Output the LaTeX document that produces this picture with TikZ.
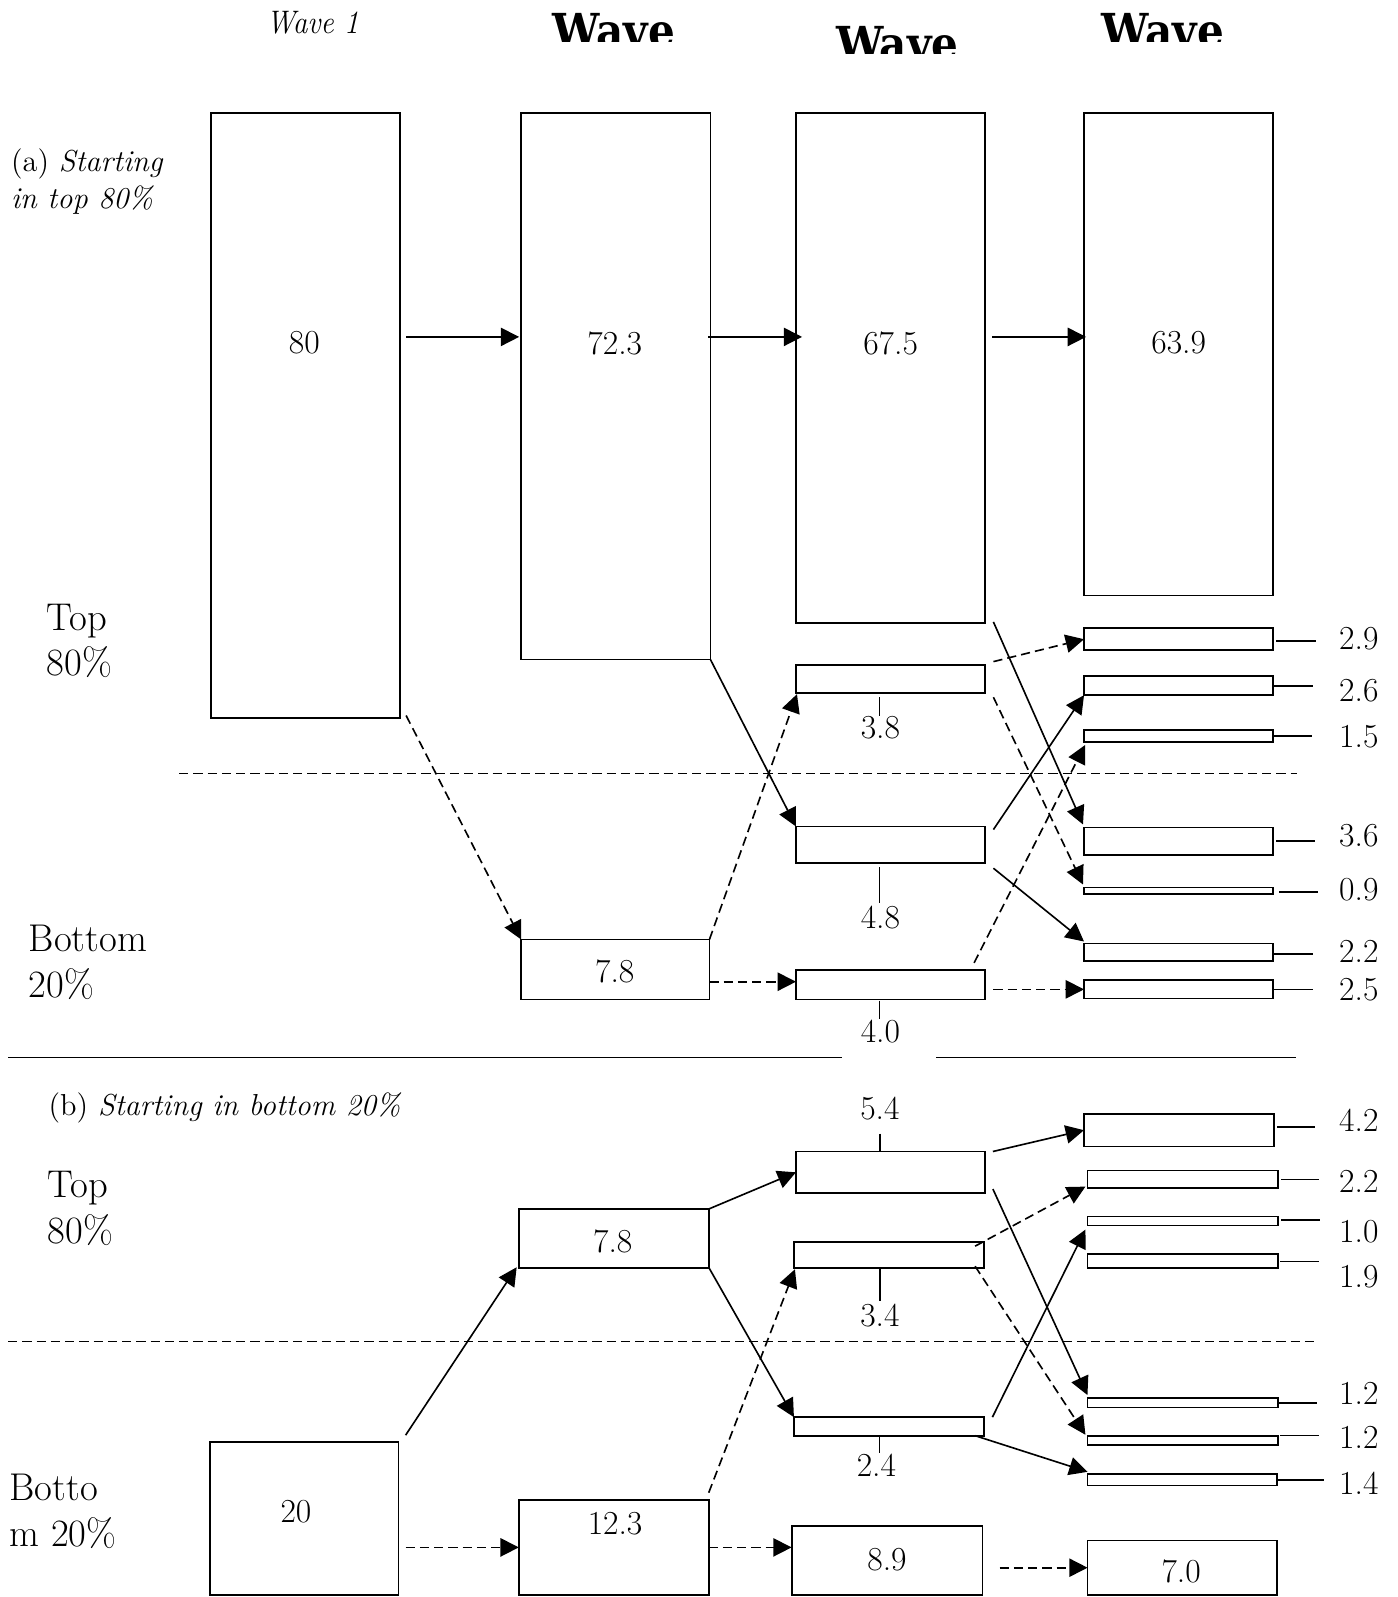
\documentclass[tikz,border=0pt]{standalone}
\usepackage{fontspec}
\usepackage{graphicx}
\newfontfamily\waveheadfont{DejaVu Serif}
\usepackage{tikz}
\usetikzlibrary{arrows.meta,calc,fit}

\tikzset{
  box/.style={draw, line width=0.9pt, inner sep=0pt, outer sep=0pt},
  num/.style={font=\fontsize{16.5}{19}\selectfont, inner sep=0pt},
  side/.style={font=\fontsize{19}{22.3}\selectfont, align=left, anchor=base west, inner sep=0pt},
  panel/.style={font=\fontsize{14.9}{18}\selectfont, align=left, anchor=base west, inner sep=0pt},
  wavehead/.style={font=\waveheadfont\bfseries\fontsize{23}{26}\selectfont, anchor=base, inner sep=0pt},
  waveone/.style={font=\fontsize{16}{19}\selectfont\itshape, anchor=base, inner sep=0pt},
  arr/.style={line width=0.8pt, -{Triangle[length=9pt,width=9pt]}},
  darr/.style={arr, dash pattern=on 4.5pt off 2.5pt},
  tick/.style={line width=0.8pt},
  sep/.style={line width=0.8pt},
}

\begin{document}
\begin{tikzpicture}[x=0.5pt,y=-0.5pt]
\useasboundingbox (0,0) rectangle (1373,1569);

\node[waveone] (w1) at (307,32.7) {\scalebox{0.9}[1]{Wave 1}};
\begin{scope}
  \clip (520,0) rectangle (690,41);
  \node[wavehead] (w2) at (603,46.5) {\scalebox{0.9}[1]{Wave}};
\end{scope}
\begin{scope}
  \clip (800,0) rectangle (970,52.4);
  \node[wavehead] (w3) at (881.5,59.7) {\scalebox{0.9}[1]{Wave}};
\end{scope}
\begin{scope}
  \clip (1060,0) rectangle (1230,41);
  \node[wavehead] (w4) at (1142.5,46.6) {\scalebox{0.9}[1]{Wave}};
\end{scope}

\draw[sep, dash pattern=on 4.5pt off 2.5pt] (176,760) -- (1274,760);
\draw[sep] (8,1039) -- (1273,1039);
\fill[white] (827,1035) rectangle (920,1043);
\draw[sep, dash pattern=on 4.5pt off 2.5pt] (8,1318) -- (1292,1318);

\node[panel] (capa) at (10.5,204.6) {(a) \textit{Starting}\\\textit{in top 80\%}};
\node[side] (topa) at (45.6,664) {Top\\80\%};
\node[side] (bota) at (28,979.7) {Bottom\\20\%};

\node[box, fit={(207,111) (393,705)}] (a1) {};
\node[box, fit={(512,111) (698,648)}] (a2) {};
\node[box, fit={(782,111) (968,612)}] (a3) {};
\node[box, fit={(1065,111) (1251,585)}] (a4) {};
\node[box, fit={(512,923) (697,982)}] (b2) {};
\node[box, fit={(782,653) (968,681)}] (c38) {};
\node[box, fit={(782,812) (968,848)}] (c48) {};
\node[box, fit={(782,953) (968,982)}] (c40) {};
\node[box, fit={(1065,617) (1251,639)}] (d29) {};
\node[box, fit={(1065,664) (1251,683)}] (d26) {};
\node[box, fit={(1065,717) (1251,729)}] (d15) {};
\node[box, fit={(1065,813) (1251,840)}] (d36) {};
\node[box, fit={(1065,872) (1251,878.5)}] (d09) {};
\node[box, fit={(1065,927) (1251,944)}] (d22) {};
\node[box, fit={(1065,963) (1251,981)}] (d25) {};

\node[num] (n80) at (299,337) {80};
\node[num] (n723) at (604,337) {72.3};
\node[num] (n675) at (875,337) {67.5};
\node[num] (n639) at (1158,337) {63.9};
\node[num] (n78a) at (604,954.5) {7.8};
\node[num] (n38) at (865,715) {3.8};
\node[num] (n48) at (865,901) {4.8};
\node[num] (n40) at (865,1013) {4.0};

\draw[tick] ($(n38.north |- c38.south)+(-1,4)$) -- ($(n38.north)+(-1,0)$);
\draw[tick] ($(n48.north |- c48.south)+(-1,4)$) -- ($(n48.north)+(-1,-2)$);
\draw[tick] ($(n40.north |- c40.south)+(-1,1)$) -- ($(n40.north)+(-1,0)$);

\node[num] (l29) at (1335,627) {2.9};
\node[num] (l26) at (1335,679) {2.6};
\node[num] (l15) at (1335,724) {1.5};
\node[num] (l36) at (1335,821) {3.6};
\node[num] (l09) at (1335,874) {0.9};
\node[num] (l22a) at (1335,935) {2.2};
\node[num] (l25) at (1335,972) {2.5};

\draw[tick] ($(d29.east)+(3,2)$) -- ++(39,0);
\draw[tick] ($(d26.east)+(1,0.5)$) -- ++(38,0);
\draw[tick] ($(d15.east)+(1,0)$) -- ++(37,0);
\draw[tick] ($(d36.east)+(3,0)$) -- ++(38,0);
\draw[tick] ($(d09.east)+(6,1)$) -- ++(38,0);
\draw[tick] ($(d22.east)+(1,1.5)$) -- ++(38,0);
\draw[tick] ($(d25.east)+(1,0)$) -- ++(38,0);

\draw[arr] ($(a1.east |- n80)+(6,-6)$) -- ($(a2.west |- n80)+(-2,-6)$);
\draw[arr] ($(a2.east |- n723)+(-2,-6)$) -- ($(a3.west |- n723)+(6,-6)$);
\draw[arr] ($(a3.east |- n675)+(7,-6)$) -- ($(a4.west |- n675)+(2,-6)$);
\draw[darr] ($(a1.south east)+(6,-2)$) -- (b2.north west);
\draw[arr] (a2.south east) -- (c48.north west);
\draw[darr] (b2.north east) -- ($(c38.south west)+(1,1)$);
\draw[darr] ($(b2.east |- c40.west)+(0,-3)$) -- ($(c40.west)+(0,-3)$);
\draw[arr] ($(a3.south east)+(8,-1)$) -- ($(d36.north west)+(-1,-3)$);
\draw[darr] ($(c38.north east)+(8,-3)$) -- (d29.west);
\draw[darr] ($(c38.south east)+(8,4)$) -- ($(d09.north west)+(-1,-3)$);
\draw[arr] ($(c48.north east)+(8,3)$) -- (d26.south west);
\draw[darr] ($(c40.north east)+(-11,-7)$) -- ($(d15.south west)+(1,3)$);
\draw[arr] ($(c48.south east)+(8,5)$) -- ($(d22.north west)+(0,-2)$);
\draw[darr] ($(c40.east |- d25.west)+(8,0)$) -- (d25.west);

\node[panel] (capb) at (47.4,1096.3) {(b) \textit{Starting in bottom 20\%}};
\node[side] (topb) at (46.5,1221.3) {Top\\80\%};
\node[side] (botb) at (9,1519) {Botto\\m 20\%};

\node[box, fit={(206,1417) (391.5,1567)}] (e20) {};
\node[box, fit={(509.6,1187.6) (696.8,1246)}] (f78) {};
\node[box, fit={(509.7,1473.5) (696.3,1567)}] (f123) {};
\node[box, fit={(782,1131.3) (968,1172.2)}] (g54) {};
\node[box, fit={(780,1220.3) (967,1246)}] (g34) {};
\node[box, fit={(780,1392.3) (967,1410.5)}] (g24) {};
\node[box, fit={(777.7,1499) (965.2,1567)}] (g89) {};
\node[box, fit={(1065,1094.3) (1251.6,1126.4)}] (h42) {};
\node[box, fit={(1068.4,1150) (1255.8,1167.3)}] (h22) {};
\node[box, fit={(1068.4,1195.2) (1255.8,1204)}] (h10) {};
\node[box, fit={(1068.4,1231.8) (1255.8,1245.9)}] (h19) {};
\node[box, fit={(1068.4,1373.6) (1255.8,1382.8)}] (h12a) {};
\node[box, fit={(1068.4,1410.6) (1255.8,1420)}] (h12b) {};
\node[box, fit={(1068.5,1448) (1254.5,1459.5)}] (h14) {};
\node[box, fit={(1068.5,1513.4) (1254.3,1567)}] (h70) {};

\node[num] (n20) at (290.8,1485) {20};
\node[num] (n78b) at (602,1219.7) {7.8};
\node[num] (n123) at (604.3,1497) {12.3};
\node[num] (n89) at (871.4,1532.6) {8.9};
\node[num] (n70) at (1160.4,1544) {7.0};
\node[num] (n54) at (864.5,1089) {5.4};
\node[num] (n34) at (864.5,1292) {3.4};
\node[num] (n24) at (861,1440) {2.4};

\draw[tick] ($(n54.south)+(0,13)$) -- (n54.south |- g54.north);
\draw[tick] (n34.north |- g34.south) -- ($(n34.north)+(0,-2)$);
\draw[tick] ($(n24.north |- g24.south)+(3,0)$) -- ($(n24.north)+(3,-1)$);

\node[num] (l42) at (1335,1101) {4.2};
\node[num] (l22b) at (1335,1161) {2.2};
\node[num] (l10) at (1335,1210) {1.0};
\node[num] (l19) at (1335,1254) {1.9};
\node[num] (l12a) at (1335,1369) {1.2};
\node[num] (l12b) at (1335,1412) {1.2};
\node[num] (l14) at (1335,1457) {1.4};

\draw[tick] ($(h42.east)+(3.4,-3.3)$) -- ++(37,0);
\draw[tick] ($(h22.east)+(3,0)$) -- ++(37,0);
\draw[tick] ($(h10.east)+(3,-1)$) -- ++(38,0);
\draw[tick] ($(h19.east)+(2,0.5)$) -- ++(38,0);
\draw[tick] (h12a.east) -- ++(38,0);
\draw[tick] ($(h12b.east)+(2,-5)$) -- ++(38,0);
\draw[tick] (h14.east) -- ++(46,0);

\draw[arr] ($(e20.north east)+(7,-7)$) -- ($(f78.south west)+(-2,-1)$);
\draw[darr] ($(e20.east |- f123.west)+(7,0)$) -- (f123.west);
\draw[darr] ($(f123.north east)+(0,-7)$) -- ($(g34.south west)+(1,1)$);
\draw[darr] (f123.east) -- (g89.west |- f123.east);
\draw[darr] ($(g89.east |- h70.west)+(17,0)$) -- (h70.west);
\draw[arr] (f78.north east) -- (g54.west);
\draw[arr] (f78.south east) -- (g24.north west);
\draw[arr] ($(g54.north east)+(7.5,0)$) -- (h42.west);
\draw[arr] ($(g54.south east)+(7.5,-4)$) -- ($(h12a.north west)+(0,-3)$);
\draw[darr] ($(g34.north east)+(-9,4)$) -- ($(h22.south west)+(-2,-1.5)$);
\draw[darr] ($(g34.south east)+(-9,-2)$) -- ($(h12b.north west)+(-2,-1)$);
\draw[arr] ($(g24.north east)+(8,0)$) -- ($(h10.south west)+(-2,4)$);
\draw[arr] ($(g24.south east)+(-9,0)$) -- ($(h14.north west)+(0,-2)$);
\end{tikzpicture}
\end{document}
